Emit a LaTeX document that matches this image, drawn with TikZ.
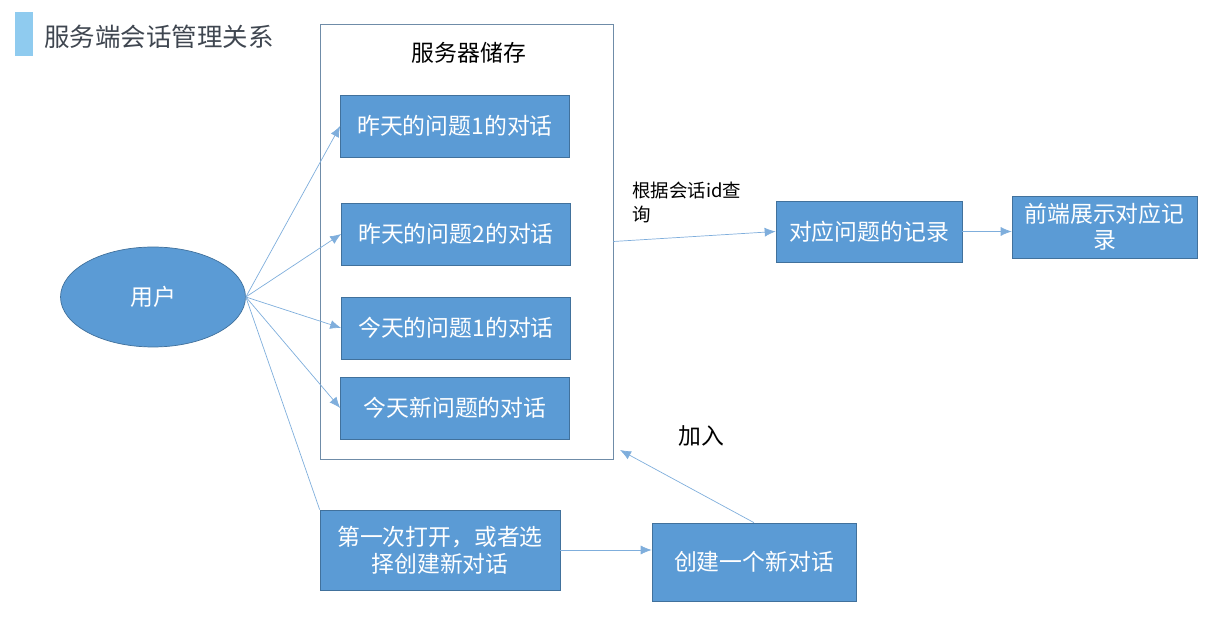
\documentclass[tikz,border=0pt]{standalone}
\usepackage{fontspec}
\newfontfamily\cjk{Noto Sans CJK SC}
\usetikzlibrary{arrows.meta,shapes.geometric}
\definecolor{boxblue}{HTML}{5B9BD5}
\definecolor{edgeblue}{HTML}{41719C}
\definecolor{framegray}{HTML}{6F8CA8}
\definecolor{titlebar}{HTML}{8FCBEF}
\definecolor{titlegray}{HTML}{3F4650}
\definecolor{arrowblue}{HTML}{7FAEDC}

\begin{document}
\begin{tikzpicture}[
  x=0.02cm,y=-0.02cm,
  every node/.style={font=\cjk\fontsize{13}{15}\selectfont,align=center},
  box/.style={draw=edgeblue,fill=boxblue,text=white,inner sep=0pt},
  conv/.style={box,minimum width=4.58cm,minimum height=1.24cm},
  arr/.style={-{Latex[length=2.2mm,width=1.8mm]},draw=arrowblue,thin},
  link/.style={draw=arrowblue,thin}
]
\useasboundingbox (0,0) rectangle (1212,617);
% title
\fill[titlebar] (15,12) rectangle (33,56);
\node[anchor=west,text=titlegray,font=\cjk\fontsize{14.5}{16}\selectfont] (title) at (38,37) {服务端会话管理关系};
% server storage
\node[draw=framegray,minimum width=5.86cm,minimum height=8.7cm] (store) at (466.5,241.5) {};
\node (storelabel) at (469,53) {服务器储存};
\node[conv] (q1) at (455,126) {昨天的问题1的对话};
\node[conv] (q2) at (456,234) {昨天的问题2的对话};
\node[conv] (q3) at (456,328) {今天的问题1的对话};
\node[conv] (q4) at (455,408) {今天新问题的对话};
% user and records
\node[box,ellipse,minimum width=3.7cm,minimum height=2cm] (user) at (153,297) {用户};
\node[box,minimum width=3.72cm,minimum height=1.22cm] (record) at (869,231.5) {对应问题的记录};
\node[box,minimum width=3.7cm,minimum height=1.24cm,font=\cjk\fontsize{13}{14.7}\selectfont] (front) at (1104.5,227) {前端展示对应记\\录};
\node[box,minimum width=4.8cm,minimum height=1.6cm,font=\cjk\fontsize{13}{15.3}\selectfont] (first) at (440,550) {第一次打开，或者选\\择创建新对话};
\node[box,minimum width=4.08cm,minimum height=1.56cm] (create) at (754,562) {创建一个新对话};
\node[anchor=north west,align=left,font=\cjk\fontsize{10.5}{13.6}\selectfont] (query) at (626,176) {根据会话id查\\询};
\node (join) at (701,436) {加入};
\coordinate (storecorner) at (620,450);
% connectors
\draw[arr] (user.east) -- (q1.west);
\draw[arr] (user.east) -- (q2.west);
\draw[arr] (user.east) -- (q3.west);
\draw[arr] (user.east) -- (q4.west);
\draw[link] (user.east) -- (first.north west);
\draw[arr] (store.east) -- (record.west);
\draw[arr] (record.east) -- (record.east -| front.west);
\draw[arr] (first.east) -- (first.east -| create.west);
\draw[arr] (create.north) -- (storecorner);
\end{tikzpicture}
\end{document}
